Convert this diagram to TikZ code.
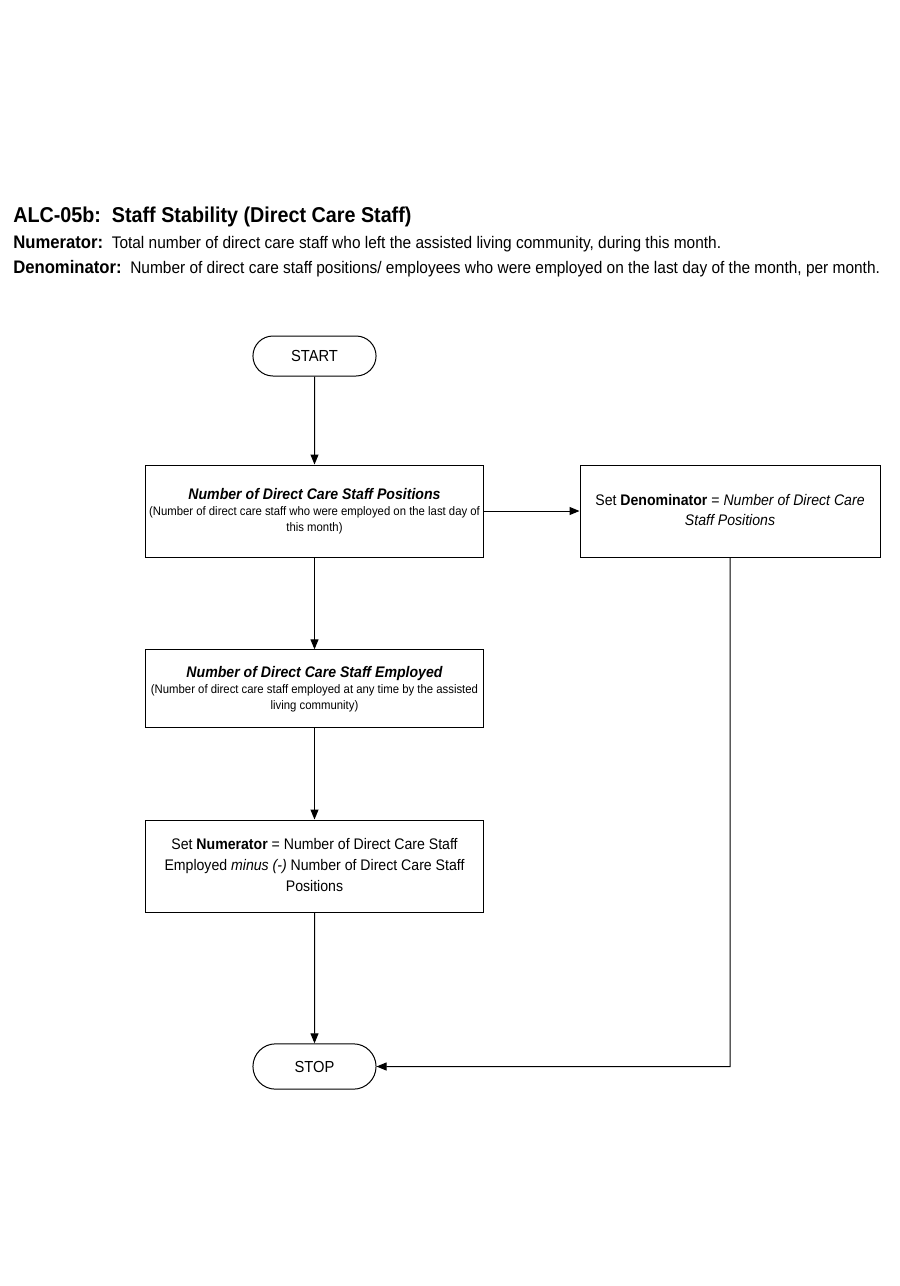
\documentclass[tikz,border=0pt]{standalone}
\usepackage{fontspec}
\setmainfont{Liberation Sans}[FakeStretch=0.92]
\usetikzlibrary{shapes,positioning,arrows,arrows.meta,calc}

\tikzset{
  procbox/.style={draw, rectangle, line width=0.75pt, inner sep=2pt, align=center},
  termbox/.style={draw, rounded rectangle, line width=0.75pt, minimum width=99pt, minimum height=30pt, font=\fontsize{12}{14}\selectfont},
  flow/.style={-{Triangle[length=7.5pt,width=6pt]}, line width=0.75pt}
}

\begin{document}
\begin{tikzpicture}[x=0.75pt, y=-0.75pt]
        \useasboundingbox (0,0) rectangle (900,1286);
        % heading
        \node [anchor=base west, inner sep=0, font=\fontsize{16.1}{18}\selectfont\bfseries] (title) at (13,222) {ALC-05b:\, Staff Stability (Direct Care Staff)};
        \node [anchor=base west, inner sep=0, font=\fontsize{12.6}{14}\selectfont] (num) at (13,248) {\fontsize{13.6}{15}\selectfont\textbf{Numerator:}\fontsize{12.6}{14}\selectfont\ \ Total number of direct care staff who left the assisted living community, during this month.};
        \node [anchor=base west, inner sep=0, font=\fontsize{12.6}{14}\selectfont] (den) at (13,273) {\fontsize{13.6}{15}\selectfont\textbf{Denominator:}\fontsize{12.6}{14}\selectfont\ \ Number of direct care staff positions/ employees who were employed on the last day of the month, per month.};
        % flow chart
        \node [termbox] (start) at (314.5,356) {START};
        \node [procbox, minimum width=254pt, minimum height=69pt] (pos) at (314.5,511) {};
        \node [align=center, font=\fontsize{9.25}{12}\selectfont] (postxt) at (314.5,511) {{\fontsize{11.5}{14}\selectfont\bfseries\itshape Number of Direct Care Staff Positions}\\(Number of direct care staff who were employed on the last day of\\this month)};
        \node [procbox, minimum width=225pt, minimum height=69pt] (setden) at (730,511) {};
        \node [align=center, font=\fontsize{11.5}{15}\selectfont] (dentxt) at (730,510) {Set \textbf{Denominator} = \textit{Number of Direct Care}\\\textit{Staff Positions}};
        \node [procbox, minimum width=254pt, minimum height=58pt] (emp) at (314.5,688.5) {};
        \node [align=center, font=\fontsize{9.25}{12}\selectfont] (emptxt) at (314.5,689) {{\fontsize{11.5}{14}\selectfont\bfseries\itshape Number of Direct Care Staff Employed}\\(Number of direct care staff employed at any time by the assisted\\living community)};
        \node [procbox, minimum width=254pt, minimum height=69pt] (setnum) at (314.5,866) {};
        \node [align=center, font=\fontsize{11.5}{15.5}\selectfont] (numtxt) at (314.5,865) {Set \textbf{Numerator} = Number of Direct Care Staff\\Employed \textit{minus (-)} Number of Direct Care Staff\\Positions};
        \node [termbox, minimum height=34pt] (stop) at (314.5,1066.5) {STOP};
        \coordinate (corner) at (730,1066.5);
        % connectors
        \draw [flow] (start) -- (pos);
        \draw [flow] (pos) -- (setden);
        \draw [flow] (pos) -- (emp);
        \draw [flow] (emp) -- (setnum);
        \draw [flow] (setnum) -- (stop);
        \draw [flow] (setden) -- (corner) -- (stop);
      \end{tikzpicture}
\end{document}
